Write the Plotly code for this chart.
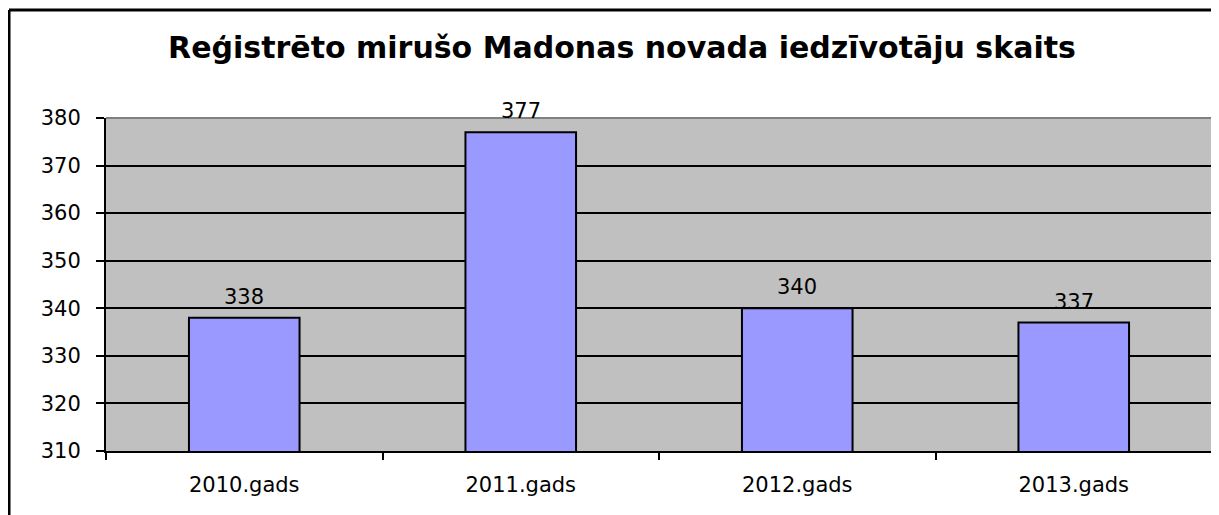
import plotly.graph_objects as go

years = ["2010.gads", "2011.gads", "2012.gads", "2013.gads"]
deaths = [338, 377, 340, 337]
y_ticks = [310, 320, 330, 340, 350, 360, 370, 380]

# page body has an 8px margin, so the figure is shrunk by that amount
OFF = 8
W, H = 1219 - OFF, 515 - OFF
L, R, T, B = 106 - OFF, 7, 118 - OFF, 64
pw, ph = W - L - R, H - T - B


def px_x(x):
    return (x - OFF - L) / pw


def px_y(y):
    return (H - B - (y - OFF)) / ph


fig = go.Figure(
    go.Bar(
        x=years,
        y=deaths,
        marker=dict(color="#9999FF", line=dict(color="black", width=2)),
        width=0.4,
    )
)

for yr, v in zip(years, deaths):
    fig.add_annotation(x=yr, y=v, text=str(v), showarrow=False, yanchor="middle", yshift=21,
                       font=dict(size=21, color="black"))

fig.update_layout(
    width=W,
    height=H,
    margin=dict(l=L, r=R, t=T, b=B),
    paper_bgcolor="white",
    plot_bgcolor="#C0C0C0",
    font=dict(family="DejaVu Sans, Arial, sans-serif", color="black"),
    showlegend=False,
    title=dict(
        text="<b>Reģistrēto mirušo Madonas novada iedzīvotāju skaits</b>",
        x=(622 - OFF) / W,
        xanchor="center",
        y=1 - (47 - OFF) / H,
        yanchor="middle",
        font=dict(size=30, color="black"),
    ),
    shapes=[
        # chart frame (top and left visible)
        dict(type="line", xref="paper", yref="paper", x0=px_x(9), x1=px_x(1230), y0=px_y(10), y1=px_y(10),
             line=dict(color="black", width=3)),
        dict(type="line", xref="paper", yref="paper", x0=px_x(9), x1=px_x(9), y0=px_y(10), y1=px_y(530),
             line=dict(color="black", width=3)),
        # plot area border top/right in grey
        dict(type="line", xref="paper", yref="paper", x0=0, x1=1, y0=1, y1=1,
             line=dict(color="#808080", width=2)),
        dict(type="line", xref="paper", yref="paper", x0=1, x1=1, y0=0, y1=1,
             line=dict(color="#808080", width=2)),
    ],
)

fig.update_xaxes(
    type="category",
    showgrid=False,
    showline=True,
    linecolor="black",
    linewidth=2,
    ticks="outside",
    tickson="boundaries",
    ticklen=7,
    tickwidth=1.5,
    tickcolor="black",
    tickfont=dict(size=21, color="black"),
    ticklabelstandoff=14,
)

fig.update_yaxes(
    range=[310, 380],
    tickvals=y_ticks,
    showgrid=True,
    gridcolor="black",
    gridwidth=1.5,
    zeroline=False,
    showline=True,
    linecolor="black",
    linewidth=2,
    ticks="outside",
    ticklen=8,
    tickwidth=1.5,
    tickcolor="black",
    tickfont=dict(size=21, color="black"),
    ticklabelstandoff=11,
)

fig.write_html("out.html")
